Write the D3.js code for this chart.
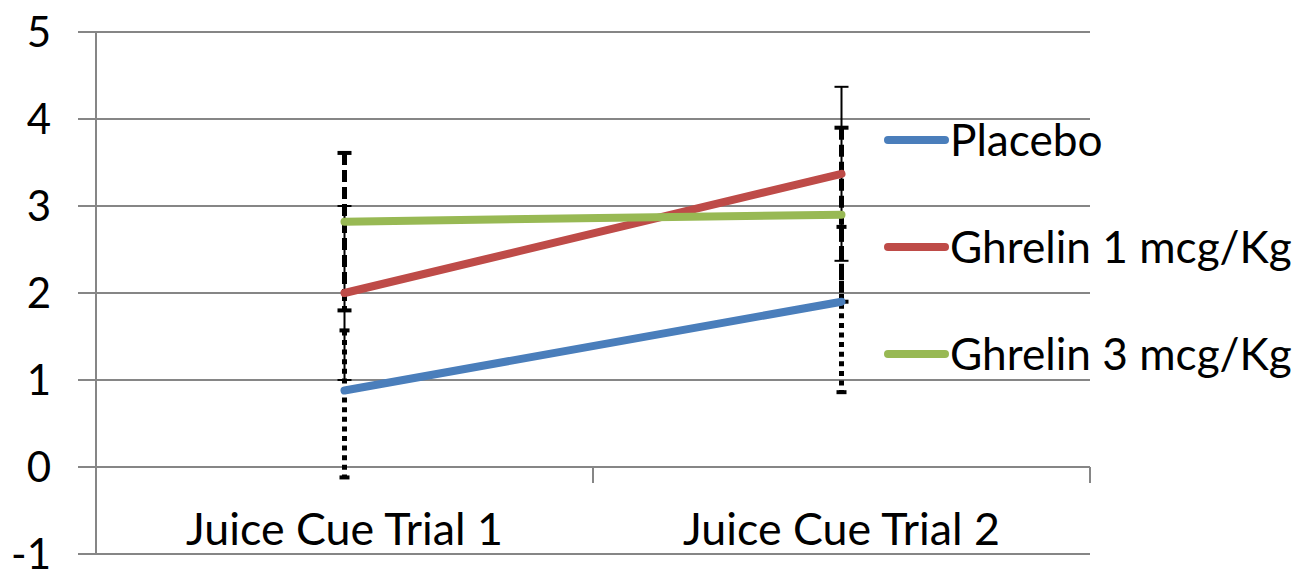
<!DOCTYPE html>
<html><head><meta charset="utf-8">
<script src="https://cdn.jsdelivr.net/npm/d3@7"></script>
<style>body{margin:0;background:#fff}svg{display:block}text{font-family:Lato,"Open Sans",sans-serif;fill:#000}</style>
</head><body>
<svg id="c" width="1310" height="571"></svg>
<script>
const categories = ["Juice Cue Trial 1", "Juice Cue Trial 2"];
const seriesNames = ["Placebo", "Ghrelin 1 mcg/Kg", "Ghrelin 3 mcg/Kg"];
const placebo = [0.88, 1.90];
const ghrelin1 = [2.00, 3.37];
const ghrelin3 = [2.82, 2.90];
const placeboErrPlus = [0.69, 0.86];
const placeboErrMinus = [1.00, 1.04];
const ghrelin1ErrPlus = [1.00, 1.00];
const ghrelin1ErrMinus = [1.00, 1.00];
const ghrelin3ErrPlus = [0.79, 1.00];
const ghrelin3ErrMinus = [1.02, 1.00];
const yTicks = [-1, 0, 1, 2, 3, 4, 5];
const colors = ["#4A7EBB", "#BE4B48", "#98B954"];

const series = [
  {name: seriesNames[0], values: placebo, plus: placeboErrPlus, minus: placeboErrMinus, color: colors[0], err: {w: 5, dash: "5,4.6", cap: 10}},
  {name: seriesNames[1], values: ghrelin1, plus: ghrelin1ErrPlus, minus: ghrelin1ErrMinus, color: colors[1], err: {w: 2, dash: null, cap: 14}},
  {name: seriesNames[2], values: ghrelin3, plus: ghrelin3ErrPlus, minus: ghrelin3ErrMinus, color: colors[2], err: {w: 5, dash: "12,5", cap: 14}}
];

const svg = d3.select("#c");
const L = 96, R = 1090, T = 32, B = 554;
const y = d3.scaleLinear().domain([-1, 5]).range([B, T]);
const x = d3.scaleBand().domain(categories).range([L, R]);
const xc = c => x(c) + x.bandwidth() / 2;
const grid = "#868686";

svg.append("g").selectAll("line").data(yTicks).join("line")
  .attr("x1", L - 18).attr("x2", R).attr("y1", d => y(d)).attr("y2", d => y(d))
  .attr("stroke", grid).attr("stroke-width", 2);
svg.append("line").attr("x1", L).attr("x2", L).attr("y1", T).attr("y2", B)
  .attr("stroke", grid).attr("stroke-width", 2);
const bounds = [L, ...categories.slice(1).map(c => x(c)), R];
svg.append("g").selectAll("line").data(bounds).join("line")
  .attr("x1", d => d).attr("x2", d => d).attr("y1", y(0)).attr("y2", y(0) + 16)
  .attr("stroke", grid).attr("stroke-width", 2);

svg.append("g").selectAll("text").data(yTicks).join("text")
  .attr("x", 51).attr("y", d => y(d)).attr("dy", "0.36em")
  .attr("text-anchor", "end").style("font-size", "42px").text(d => d);

const catLabels = svg.append("g").selectAll("text").data(categories).join("text")
  .attr("x", d => xc(d)).attr("y", 545).attr("text-anchor", "middle")
  .attr("font-size", 33).text(d => d);

series.forEach(s => {
  const g = svg.append("g");
  categories.forEach((c, i) => {
    const cx = xc(c);
    const top = y(s.values[i] + s.plus[i]), bot = y(s.values[i] - s.minus[i]);
    g.append("line").attr("x1", cx).attr("x2", cx).attr("y1", top).attr("y2", bot)
      .attr("stroke", "#000").attr("stroke-width", s.err.w)
      .attr("stroke-dasharray", s.err.dash);
    [top, bot].forEach(yy => {
      g.append("line").attr("x1", cx - s.err.cap / 2).attr("x2", cx + s.err.cap / 2)
        .attr("y1", yy).attr("y2", yy).attr("stroke", "#000")
        .attr("stroke-width", s.err.w === 2 ? 2 : 4);
    });
  });
});

const line = d3.line().x((d, i) => xc(categories[i])).y(d => y(d));
series.forEach(s => {
  svg.append("path").attr("d", line(s.values)).attr("fill", "none")
    .attr("stroke", s.color).attr("stroke-width", 8).attr("stroke-linecap", "round");
});

const legY = [140, 247, 354];
const leg = svg.append("g").selectAll("g").data(series).join("g")
  .attr("transform", (d, i) => `translate(0,${legY[i]})`);
leg.append("line").attr("x1", 888).attr("x2", 945).attr("y1", 0).attr("y2", 0)
  .attr("stroke", d => d.color).attr("stroke-width", 8).attr("stroke-linecap", "round");
leg.append("text").attr("x", 950).attr("y", 0).attr("dy", "0.36em")
  .attr("font-size", 33).text(d => d.name);

function fit(sel, target) {
  const n = sel.nodes()[1] || sel.nodes()[0];
  const w = n.getComputedTextLength();
  const fs = +d3.select(n).attr("font-size");
  sel.attr("font-size", fs * target / w);
}
fit(catLabels, 317);
fit(leg.selectAll("text"), 342);
</script>
</body></html>
